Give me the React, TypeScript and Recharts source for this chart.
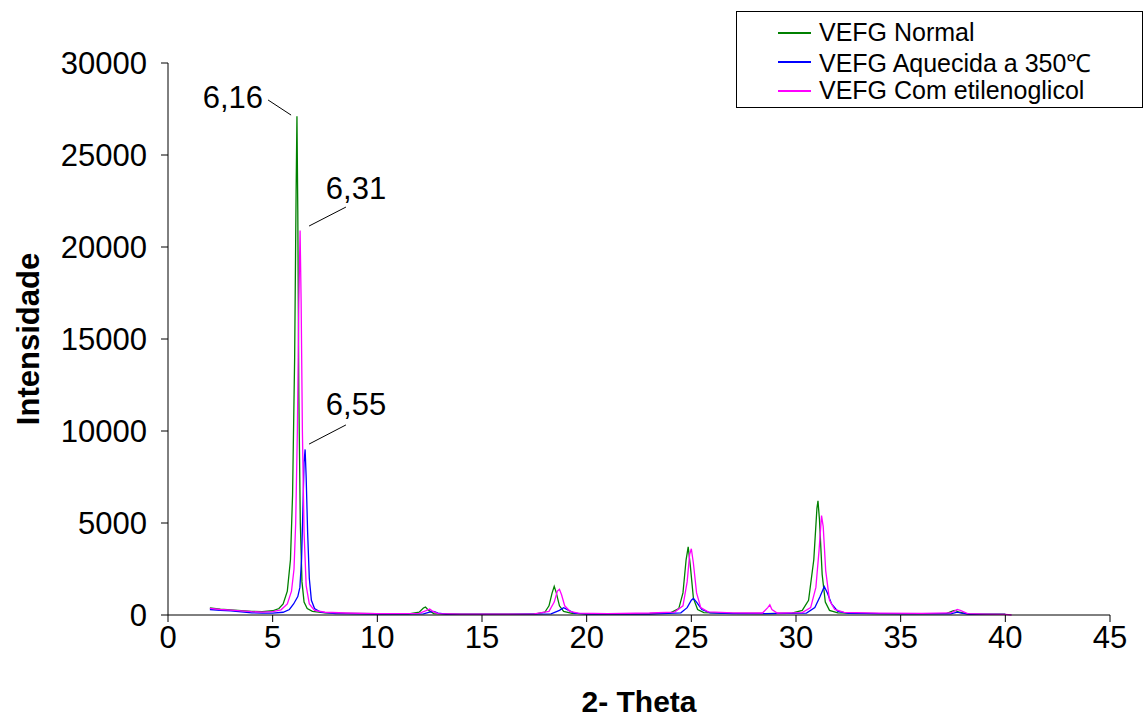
import React from 'react';
import {
  LineChart,
  Line,
  XAxis,
  YAxis,
  ReferenceLine,
  ReferenceDot,
} from 'recharts';

// 2-theta positions and intensities
const normalTheta = [2.0, 2.5, 3.0, 3.5, 4.0, 4.5, 5.0, 5.3, 5.5, 5.7, 5.85, 5.95, 6.05, 6.12, 6.16, 6.2, 6.25, 6.32, 6.4, 6.5, 6.65, 6.9, 7.5, 8.5, 10, 11.5, 12.0, 12.2, 12.3, 12.45, 12.7, 14, 16, 17.5, 18.0, 18.2, 18.35, 18.45, 18.55, 18.7, 18.9, 19.3, 21, 23, 24.0, 24.4, 24.6, 24.75, 24.85, 24.95, 25.1, 25.3, 25.6, 27, 28.5, 29.8, 30.3, 30.6, 30.85, 31.0, 31.05, 31.12, 31.25, 31.4, 31.6, 32, 34, 36, 37.2, 37.5, 37.6, 37.8, 38.2, 40.0];
const normalInt = [380, 320, 280, 240, 200, 180, 230, 350, 600, 1300, 3000, 6500, 14000, 23000, 27100, 22000, 12000, 5000, 1800, 700, 350, 200, 120, 90, 70, 60, 150, 380, 430, 250, 80, 50, 40, 50, 150, 500, 1200, 1560, 1200, 500, 200, 90, 60, 70, 120, 350, 1200, 3000, 3700, 2700, 900, 300, 130, 90, 80, 100, 250, 800, 3000, 5800, 6200, 5200, 2200, 700, 250, 120, 80, 70, 90, 220, 250, 150, 60, 40];

const heatedTheta = [2.0, 2.5, 3.0, 3.5, 4.0, 4.5, 5.0, 5.5, 5.8, 6.0, 6.1, 6.2, 6.3, 6.38, 6.45, 6.5, 6.55, 6.6, 6.67, 6.75, 6.85, 7.0, 7.3, 8, 10, 12.2, 12.5, 12.7, 12.9, 13.3, 16, 18.3, 18.7, 18.9, 19.1, 19.4, 20, 23, 24.5, 24.8, 25.0, 25.1, 25.25, 25.5, 25.9, 27, 28.7, 30.5, 30.9, 31.15, 31.35, 31.5, 31.7, 32.0, 32.5, 35, 37.4, 37.7, 37.9, 38.3, 40];
const heatedInt = [300, 250, 220, 170, 120, 100, 100, 150, 300, 600, 800, 1000, 1500, 3000, 6000, 8300, 9000, 7500, 4500, 2000, 800, 350, 150, 80, 50, 60, 150, 200, 100, 40, 30, 60, 250, 400, 280, 100, 50, 50, 120, 400, 800, 900, 700, 300, 120, 80, 80, 100, 400, 1000, 1550, 1200, 600, 200, 90, 60, 60, 150, 100, 40, 30];

const glycolTheta = [2.0, 2.5, 3.0, 3.5, 4.0, 4.5, 5.0, 5.4, 5.7, 5.9, 6.02, 6.1, 6.18, 6.25, 6.31, 6.36, 6.42, 6.5, 6.6, 6.75, 7.0, 7.5, 8.5, 10, 12.0, 12.3, 12.5, 12.65, 12.9, 14, 16, 17.5, 18.2, 18.45, 18.6, 18.7, 18.8, 18.95, 19.2, 19.6, 21, 23, 24.2, 24.6, 24.8, 24.92, 25.0, 25.1, 25.25, 25.45, 25.8, 27, 28.4, 28.65, 28.75, 28.85, 29.1, 30.3, 30.7, 30.95, 31.1, 31.22, 31.3, 31.42, 31.6, 31.85, 32.3, 34, 36, 37.4, 37.7, 37.85, 38.2, 39, 40, 40.3];
const glycolInt = [360, 300, 260, 220, 180, 160, 180, 280, 600, 1300, 2500, 5000, 10000, 17000, 20900, 17000, 10000, 4500, 1600, 600, 250, 150, 110, 80, 90, 220, 320, 200, 80, 50, 50, 60, 200, 700, 1300, 1400, 1100, 500, 200, 100, 80, 110, 160, 500, 1800, 3300, 3600, 2800, 1200, 400, 170, 120, 110, 400, 550, 300, 110, 130, 400, 1500, 3500, 5400, 4800, 2400, 800, 300, 140, 100, 90, 110, 300, 250, 80, 50, 30, 0];

const xTicks = [0, 5, 10, 15, 20, 25, 30, 35, 40, 45];
const yTicks = [0, 5000, 10000, 15000, 20000, 25000, 30000];

const toPoints = (theta: number[], intensity: number[]) =>
  theta.map((t, i) => ({ theta: t, value: intensity[i] }));

const series = [
  { name: 'VEFG Normal', color: '#008000', data: toPoints(normalTheta, normalInt) },
  { name: 'VEFG Aquecida a 350\u2103', color: '#0000ff', data: toPoints(heatedTheta, heatedInt) },
  { name: 'VEFG Com etilenoglicol', color: '#ff00ff', data: toPoints(glycolTheta, glycolInt) },
];

const FONT = 'Arial, "Liberation Sans", sans-serif';

// legend sits over the chart, it does not take room from the plot
const LegendBox = () => (
  <div
    style={{
      position: 'absolute',
      left: 736,
      top: 11,
      width: 407,
      height: 97,
      border: '1px solid #000',
      background: '#fff',
      fontFamily: FONT,
      fontSize: 25,
      color: '#000',
      boxSizing: 'border-box',
      paddingTop: 6,
    }}
  >
    {series.map((s) => (
      <div key={s.name} style={{ display: 'flex', alignItems: 'center', height: 29 }}>
        <span style={{ display: 'inline-block', width: 33, height: 2, background: s.color, marginLeft: 41, marginRight: 8 }} />
        <span>{s.name}</span>
      </div>
    ))}
  </div>
);

const annotationText = (value: string) => ({
  value,
  position: 'center' as const,
  fill: '#000',
  fontSize: 31,
  fontFamily: FONT,
});

export default function App() {
  return (
    <div style={{ position: 'absolute', left: 0, top: 0, width: 1145, height: 720, background: '#fff' }}>
      <LineChart width={1145} height={720} margin={{ top: 63, right: 35, bottom: 0, left: 0 }}>
        <XAxis
          type="number"
          dataKey="theta"
          domain={[0, 45]}
          ticks={xTicks}
          allowDataOverflow
          stroke="#000"
          tickSize={7}
          tickMargin={4}
          height={105}
          tick={{ fill: '#000', fontSize: 31, fontFamily: FONT }}
          label={{
            content: ({ viewBox }: any) => (
              <text
                x={viewBox.x + viewBox.width / 2}
                y={viewBox.y + 86}
                textAnchor="middle"
                dominantBaseline="central"
                fontFamily={FONT}
                fontWeight="bold"
                fontSize={30}
                fill="#000"
              >
                2- Theta
              </text>
            ),
          }}
        />
        <YAxis
          type="number"
          dataKey="value"
          domain={[0, 30000]}
          ticks={yTicks}
          stroke="#000"
          tickSize={7}
          tickMargin={14}
          width={168}
          tick={{ fill: '#000', fontSize: 31, fontFamily: FONT }}
          label={{
            content: ({ viewBox }: any) => {
              const cx = 28;
              const cy = viewBox.y + viewBox.height / 2;
              return (
                <text
                  x={cx}
                  y={cy}
                  transform={`rotate(-90 ${cx} ${cy})`}
                  textAnchor="middle"
                  dominantBaseline="central"
                  fontFamily={FONT}
                  fontWeight="bold"
                  fontSize={31}
                  fill="#000"
                >
                  Intensidade
                </text>
              );
            },
          }}
        />
        {series.map((s) => (
          <Line
            key={s.name}
            data={s.data}
            dataKey="value"
            name={s.name}
            type="linear"
            stroke={s.color}
            strokeWidth={1.3}
            dot={false}
            activeDot={false}
            isAnimationActive={false}
          />
        ))}
        <ReferenceLine segment={[{ x: 4.78, y: 27990 }, { x: 5.88, y: 27170 }]} stroke="#000" strokeWidth={1} ifOverflow="visible" />
        <ReferenceLine segment={[{ x: 6.74, y: 21140 }, { x: 8.5, y: 22170 }]} stroke="#000" strokeWidth={1} ifOverflow="visible" />
        <ReferenceLine segment={[{ x: 6.74, y: 9290 }, { x: 8.5, y: 10330 }]} stroke="#000" strokeWidth={1} ifOverflow="visible" />
        <ReferenceDot x={3.1} y={28150} r={0} fill="none" stroke="none" ifOverflow="visible" label={annotationText('6,16')} />
        <ReferenceDot x={8.98} y={23200} r={0} fill="none" stroke="none" ifOverflow="visible" label={annotationText('6,31')} />
        <ReferenceDot x={8.98} y={11470} r={0} fill="none" stroke="none" ifOverflow="visible" label={annotationText('6,55')} />
      </LineChart>
      <LegendBox />
    </div>
  );
}
